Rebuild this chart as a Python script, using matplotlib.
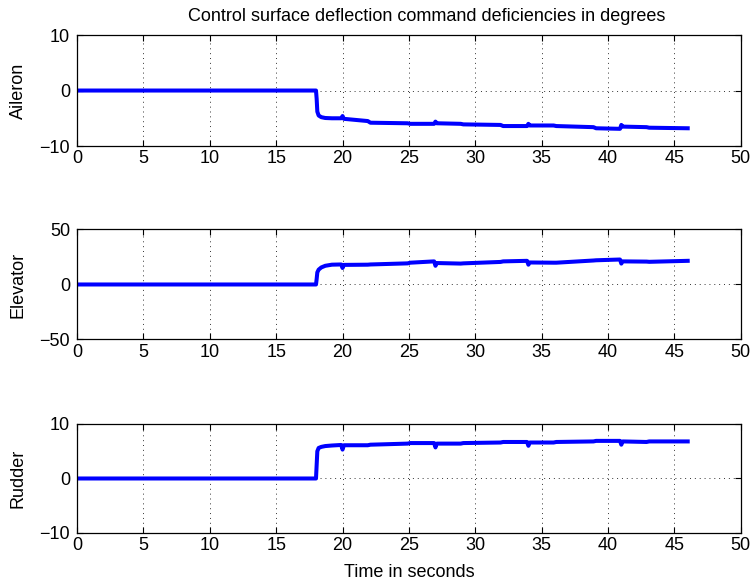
import numpy as np
import matplotlib.pyplot as plt

plt.rcParams['font.family'] = ['Liberation Sans', 'DejaVu Sans']

# time samples (seconds) shared by the three traces
t = [0, 18.0, 18.05, 18.1, 18.2, 18.4, 18.7, 19.2, 19.9, 20.0, 20.1, 21.9, 22.1,
     24.9, 25.1, 26.9, 27.0, 27.1, 28.9, 29.1, 31.9, 32.1, 33.9, 34.0, 34.1,
     35.9, 36.1, 38.9, 39.1, 40.9, 41.0, 41.1, 42.9, 43.1, 46.0]

aileron = [0, 0, -1.5, -3.8, -4.5, -4.8, -4.95, -5.0, -5.0, -4.6, -5.1, -5.5, -5.8,
           -5.9, -6.0, -6.0, -5.6, -5.9, -6.0, -6.1, -6.2, -6.4, -6.4, -6.0, -6.3,
           -6.3, -6.4, -6.6, -6.8, -6.9, -6.2, -6.5, -6.6, -6.7, -6.8]

elevator = [0, 0, 5.0, 11.0, 13.5, 15.5, 17.0, 18.0, 18.2, 15.0, 17.8, 18.0, 18.2,
            19.2, 19.8, 21.0, 17.0, 19.5, 19.0, 19.2, 20.5, 21.0, 21.5, 18.0, 20.0,
            19.8, 19.8, 21.8, 22.0, 22.7, 19.0, 21.0, 20.8, 20.6, 21.5]

rudder = [0, 0, 2.5, 5.0, 5.6, 5.8, 5.95, 6.05, 6.15, 5.3, 6.1, 6.1, 6.2,
          6.4, 6.5, 6.5, 5.7, 6.4, 6.4, 6.5, 6.6, 6.7, 6.7, 6.0, 6.6,
          6.6, 6.7, 6.8, 6.9, 6.9, 6.2, 6.8, 6.7, 6.8, 6.8]

names = ['Aileron', 'Elevator', 'Rudder']
series = [aileron, elevator, rudder]
ylims = [(-10, 10), (-50, 50), (-10, 10)]
yticks = [[-10, 0, 10], [-50, 0, 50], [-10, 0, 10]]
xticks = [0, 5, 10, 15, 20, 25, 30, 35, 40, 45, 50]

fig = plt.figure(figsize=(7.56, 5.82), dpi=100)
boxes = [[0.1019, 0.7491, 0.878, 0.1907],
         [0.1019, 0.4167, 0.878, 0.1890],
         [0.1019, 0.0842, 0.878, 0.1873]]

fs = 13
for i in range(3):
    ax = fig.add_axes(boxes[i])
    ax.plot(t, series[i], color='#0000ff', lw=2.9, solid_joinstyle='round')
    ax.set_xlim(0, 50)
    ax.set_ylim(*ylims[i])
    ax.set_xticks(xticks)
    ax.set_yticks(yticks[i])
    ax.set_yticklabels(['\u2212' + str(-v) if v < 0 else str(v) for v in yticks[i]])
    ax.grid(True, ls=(0, (1, 4)), color='black', lw=0.7, alpha=0.8)
    ax.tick_params(direction='in', top=True, right=True, labelsize=fs,
                   length=4, width=0.8)
    ax.tick_params(axis='y', pad=5)
    ax.tick_params(axis='x', pad=3)
    for s in ax.spines.values():
        s.set_linewidth(0.9)
    ax.set_ylabel(names[i], fontsize=fs, labelpad=9)
    if i == 0:
        ax.set_title('Control surface deflection command deficiencies in degrees',
                     fontsize=fs, pad=10, x=0.527)
    if i == 2:
        ax.set_xlabel('Time in seconds', fontsize=fs, labelpad=7)

plt.savefig('out.png', dpi=100)
